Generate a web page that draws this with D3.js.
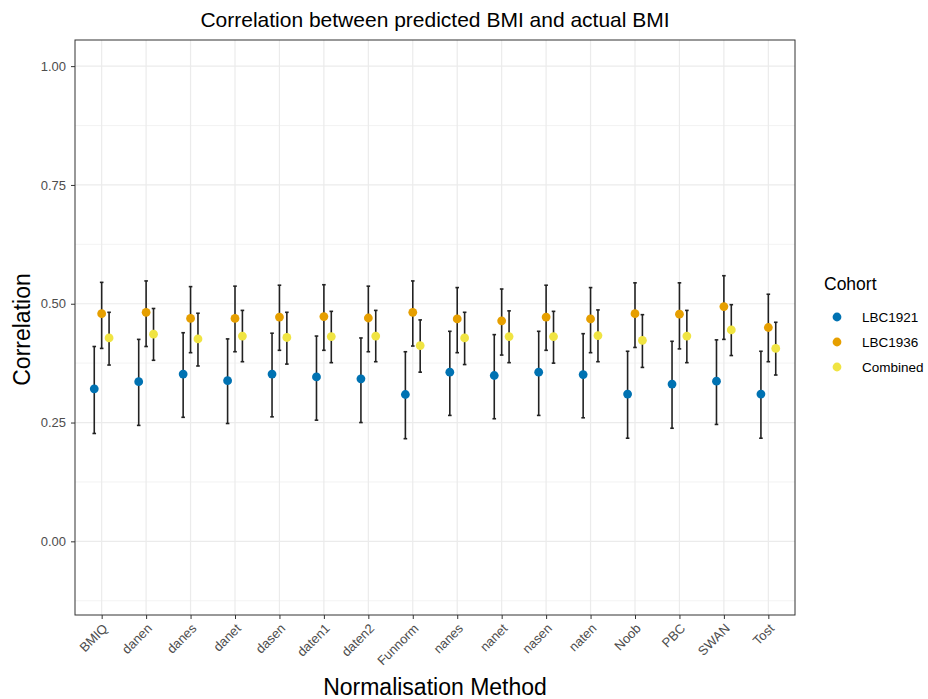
<!DOCTYPE html>
<html><head><meta charset="utf-8">
<script src="https://cdn.jsdelivr.net/npm/d3@7"></script>
<style>body{margin:0;background:#fff;font-family:"Liberation Sans",Arial,sans-serif;}</style>
</head><body><svg id="chart" width="928" height="699"></svg>
<script>
const methods = ["BMIQ","danen","danes","danet","dasen","daten1","daten2","Funnorm","nanes","nanet","nasen","naten","Noob","PBC","SWAN","Tost"];
const cohorts = ["LBC1921","LBC1936","Combined"];
const colors = ["#0072B2","#E69F00","#F0E442"];
const yTicks = [0, 0.25, 0.5, 0.75, 1];
const yTickLabels = ["0.00","0.25","0.50","0.75","1.00"];
// correlation estimates with confidence limits
const lbc1921 = [0.321,0.336,0.352,0.338,0.352,0.346,0.342,0.309,0.356,0.349,0.356,0.351,0.310,0.331,0.337,0.310];
const lbc1921Lo = [0.227,0.244,0.261,0.248,0.262,0.255,0.250,0.216,0.265,0.258,0.265,0.260,0.217,0.238,0.246,0.217];
const lbc1921Hi = [0.410,0.425,0.439,0.426,0.438,0.432,0.428,0.399,0.442,0.435,0.442,0.437,0.400,0.421,0.424,0.400];
const lbc1936 = [0.479,0.482,0.469,0.469,0.472,0.473,0.470,0.482,0.468,0.464,0.472,0.468,0.479,0.478,0.494,0.450];
const lbc1936Lo = [0.406,0.410,0.397,0.399,0.402,0.402,0.399,0.411,0.397,0.392,0.402,0.397,0.408,0.405,0.425,0.378];
const lbc1936Hi = [0.545,0.548,0.536,0.537,0.539,0.540,0.537,0.548,0.534,0.531,0.539,0.534,0.544,0.544,0.559,0.520];
const combined = [0.428,0.436,0.426,0.432,0.429,0.431,0.432,0.412,0.428,0.431,0.431,0.433,0.423,0.432,0.445,0.406];
const combinedLo = [0.371,0.381,0.369,0.378,0.373,0.376,0.378,0.356,0.372,0.376,0.375,0.378,0.366,0.376,0.391,0.350];
const combinedHi = [0.482,0.490,0.480,0.486,0.482,0.484,0.486,0.466,0.482,0.485,0.484,0.487,0.477,0.486,0.498,0.461];

const series = [
  {name: cohorts[0], v: lbc1921, lo: lbc1921Lo, hi: lbc1921Hi},
  {name: cohorts[1], v: lbc1936, lo: lbc1936Lo, hi: lbc1936Hi},
  {name: cohorts[2], v: combined, lo: combinedLo, hi: combinedHi}
];
const rows = [];
series.forEach((s, si) => methods.forEach((m, i) => rows.push({m, si, v: s.v[i], lo: s.lo[i], hi: s.hi[i]})));

const svg = d3.select("#chart");
const FONT = "Liberation Sans, Arial, sans-serif";
const L = 75, R = 795, T = 40, B = 615;
const n = methods.length;
const xs = d3.scaleLinear().domain([0.4, n + 0.6]).range([L, R]);
const x = m => xs(methods.indexOf(m) + 1);
const dodge = d3.scaleLinear().domain([-1, 1]).range([-0.5/3, 0.5/3]);
const y = d3.scaleLinear().domain([-0.155, 1.055]).range([B, T]);

const g = svg.append("g");
// grid
const minor = [-0.125, 0.125, 0.375, 0.625, 0.875];
g.selectAll(".minor").data(minor).enter().append("line")
  .attr("x1", L).attr("x2", R).attr("y1", d => y(d)).attr("y2", d => y(d))
  .attr("stroke", "#ebebeb").attr("stroke-width", 0.6);
g.selectAll(".major").data(yTicks).enter().append("line")
  .attr("x1", L).attr("x2", R).attr("y1", d => y(d)).attr("y2", d => y(d))
  .attr("stroke", "#ebebeb").attr("stroke-width", 1.2);
g.selectAll(".vmajor").data(methods).enter().append("line")
  .attr("x1", d => x(d)).attr("x2", d => x(d)).attr("y1", T).attr("y2", B)
  .attr("stroke", "#ebebeb").attr("stroke-width", 1.2);

// error bars
const eb = g.selectAll(".eb").data(rows).enter().append("g");
const cx = d => xs(methods.indexOf(d.m) + 1 + dodge(d.si - 1));
eb.append("line").attr("x1", cx).attr("x2", cx).attr("y1", d => y(d.lo)).attr("y2", d => y(d.hi))
  .attr("stroke", "#222").attr("stroke-width", 1.6);
eb.append("line").attr("x1", d => cx(d) - 1.8).attr("x2", d => cx(d) + 1.8).attr("y1", d => y(d.hi)).attr("y2", d => y(d.hi))
  .attr("stroke", "#222").attr("stroke-width", 1.6);
eb.append("line").attr("x1", d => cx(d) - 1.8).attr("x2", d => cx(d) + 1.8).attr("y1", d => y(d.lo)).attr("y2", d => y(d.lo))
  .attr("stroke", "#222").attr("stroke-width", 1.6);
// points
g.selectAll(".pt").data(rows).enter().append("circle")
  .attr("cx", cx).attr("cy", d => y(d.v)).attr("r", 4.4).attr("fill", d => colors[d.si]);

// panel border
svg.append("rect").attr("x", L).attr("y", T).attr("width", R - L).attr("height", B - T)
  .attr("fill", "none").attr("stroke", "#333").attr("stroke-width", 1);

// y axis
const ya = svg.append("g").attr("transform", `translate(${L},0)`)
  .call(d3.axisLeft(y).tickValues(yTicks).tickFormat((d, i) => yTickLabels[i]).tickSize(4).tickPadding(5));
ya.select(".domain").remove();
ya.selectAll(".tick line").attr("stroke", "#333");
ya.selectAll("text").attr("fill", "#4d4d4d").style("font-size", "13px").style("font-family", FONT);

// x axis
const xa = svg.append("g").attr("transform", `translate(0,${B})`)
  .call(d3.axisBottom(xs).tickValues(d3.range(1, n + 1)).tickFormat(i => methods[i - 1]).tickSize(4).tickPadding(4));
xa.select(".domain").remove();
xa.selectAll(".tick line").attr("stroke", "#333");
xa.selectAll("text").attr("fill", "#4d4d4d").style("font-size", "13px").style("font-family", FONT)
  .attr("text-anchor", "end").attr("dy", "0.35em").attr("transform", "translate(3,11) rotate(-45)").attr("y", 0).attr("x", 0);

// titles
svg.append("text").attr("x", (L + R) / 2).attr("y", 27).attr("text-anchor", "middle")
  .style("font-size", "21px").style("font-family", FONT).attr("fill", "#000").text("Correlation between predicted BMI and actual BMI");
svg.append("text").attr("x", (L + R) / 2).attr("y", 695).attr("text-anchor", "middle")
  .style("font-size", "23px").style("font-family", FONT).attr("fill", "#000").text("Normalisation Method");
svg.append("text").attr("transform", `translate(30,${(T + B) / 2 + 2}) rotate(-90)`).attr("text-anchor", "middle")
  .style("font-size", "23px").style("font-family", FONT).attr("fill", "#000").text("Correlation");

// legend
const lg = svg.append("g").attr("transform", "translate(824,0)");
lg.append("text").attr("x", 0).attr("y", 290).style("font-size", "17.5px").style("font-family", FONT).attr("fill", "#000").text("Cohort");
cohorts.forEach((c, i) => {
  const yy = 317 + i * 25;
  lg.append("circle").attr("cx", 13).attr("cy", yy).attr("r", 4.4).attr("fill", colors[i]);
  lg.append("text").attr("x", 38).attr("y", yy + 5).style("font-size", "13.5px").style("font-family", FONT).attr("fill", "#000").text(c);
});
</script></body></html>
